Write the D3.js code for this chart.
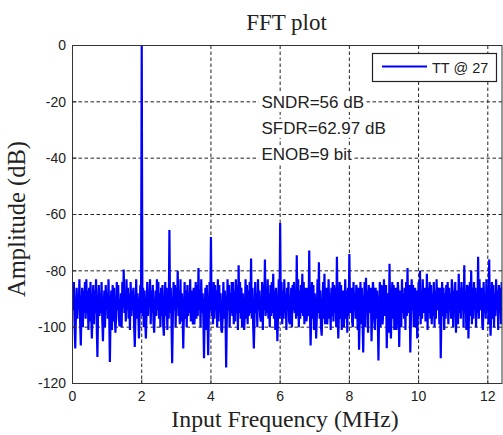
<!DOCTYPE html>
<html>
<head>
<meta charset="utf-8">
<script src="https://cdn.jsdelivr.net/npm/d3@7/dist/d3.min.js"></script>
<style>
body { margin: 0; background: #fff; }
.tick-label { font-family: "Liberation Sans", Arial, sans-serif; font-size: 14px; fill: #222; }
.serif { font-family: "Liberation Serif", "Times New Roman", serif; fill: #222; }
</style>
</head>
<body>
<div id="fft-plot"></div>
<script>
// FFT bin spacing in MHz
var binStep = 0.02;

// amplitude of each bin in dB (20 bins = 0.4 MHz per row)
var amplitude = [
  -87, -94, -84, -99, -107.6, -95, -86, -97, -89, -93, -83, -98, -106.5, -94, -86, -100, -87, -95, -84, -97,
  -83, -95, -87, -101, -86, -98, -84, -96, -104, -93, -85, -99, -87, -95, -83, -99, -110.6, -94, -85, -96,
  -88, -95, -84, -97, -105, -94, -87, -100, -85, -93, -88, -97, -83, -95, -112.4, -96, -87, -101, -85, -98,
  -86, -95, -102, -96, -84, -94, -85, -97, -99.7, -95, -88, -100, -84, -93, -79.5, -95, -87, -98, -83, -94,
  -86, -97, -88, -101, -84, -96, -87, -94, -86, -99, -107, -95, -83, -97, -88, -94, -104, -96, -85, -95,
  0, -96, -86, -100, -87, -97, -104, -95, -84, -96, -88, -93, -83, -99, -87, -95, -85, -98, -102, -94,
  -87, -96, -83, -94, -84, -97, -88, -100, -86, -96, -85, -99, -103, -94, -84, -96, -86, -101, -88, -97,
  -65.5, -95, -86, -98, -112.8, -96, -84, -94, -85, -100, -86, -93, -80, -96, -87, -99, -83, -98, -88, -94,
  -107.6, -95, -84, -97, -87, -100, -85, -96, -88, -95, -83, -98, -87, -94, -99, -86, -99, -95, -84, -97,
  -85, -96, -79, -94, -87, -100, -83, -95, -88, -96, -111, -94, -86, -101, -85, -95, -110, -96, -84, -94,
  -68, -96, -86, -99, -84, -97, -85, -94, -87, -100, -83, -98, -85, -95, -88, -101, -102, -96, -84, -97,
  -87, -95, -114.3, -96, -83, -94, -85, -100, -88, -95, -84, -96, -84, -99, -87, -98, -83, -95, -85, -101,
  -78, -95, -84, -97, -86, -100, -88, -96, -101, -95, -83, -97, -85, -99, -87, -96, -84, -95, -75.6, -97,
  -86, -99, -107.6, -96, -84, -95, -88, -100, -83, -94, -87, -96, -98, -95, -84, -101, -85, -94, -76, -96,
  -87, -95, -83, -97, -88, -100, -85, -96, -84, -95, -81, -97, -87, -101, -86, -96, -105, -95, -83, -97,
  -63, -96, -84, -99, -87, -97, -83, -95, -88, -101, -86, -94, -84, -98, -99, -95, -86, -100, -85, -94,
  -84, -95, -88, -97, -74.5, -96, -83, -100, -87, -97, -85, -95, -81, -96, -84, -99, -88, -86, -98, -95,
  -86, -96, -72.8, -94, -106.5, -95, -84, -97, -85, -101, -88, -94, -104, -96, -83, -95, -77, -97, -87, -100,
  -103, -95, -84, -97, -81, -99, -87, -86, -99, -94, -83, -97, -88, -101, -86, -96, -84, -98, -85, -95,
  -86, -100, -75, -95, -104, -94, -84, -97, -85, -101, -88, -87, -100, -95, -83, -97, -87, -102, -86, -96,
  -74, -95, -87, -86, -98, -100, -84, -94, -88, -97, -85, -87, -101, -86, -108, -96, -84, -99, -86, -97,
  -109, -95, -84, -100, -82.5, -94, -87, -102, -85, -95, -88, -86, -105, -94, -84, -87, -98, -101, -86, -97,
  -87, -96, -111.8, -95, -84, -100, -85, -86, -99, -94, -83, -96, -86, -85, -107.5, -95, -88, -102, -77.5, -96,
  -104, -94, -84, -97, -85, -101, -87, -86, -101, -95, -84, -88, -107, -94, -87, -100, -83, -95, -88, -97,
  -86, -101, -84, -96, -79, -95, -86, -85, -109, -96, -83, -94, -85, -100, -88, -86, -100, -87, -104, -95,
  -84, -96, -80, -99, -87, -97, -83, -95, -88, -86, -98, -94, -81, -101, -86, -95, -84, -97, -85, -99,
  -88, -96, -84, -100, -87, -97, -83, -94, -86, -87, -99, -86, -111, -95, -84, -96, -86, -101, -88, -97,
  -85, -95, -84, -99, -86, -94, -88, -97, -83, -86, -100, -87, -95, -84, -102, -94, -87, -99, -81, -95,
  -86, -97, -84, -94, -86, -100, -78, -95, -87, -101, -85, -86, -104, -94, -84, -96, -80, -99, -86, -97,
  -84, -94, -86, -100, -88, -95, -75, -97, -83, -94, -87, -86, -99, -101, -84, -95, -88, -97, -83, -94,
  -87, -99, -76, -95, -103, -94, -84, -97, -85, -100, -88, -96, -83, -94, -87, -101, -85, -95, -86, -99,
  -84, -94, -86, -95
];

var xTicks = [0, 2, 4, 6, 8, 10, 12];
var yTicks = [0, -20, -40, -60, -80, -100, -120];
var metrics = ["SNDR=56 dB", "SFDR=62.97 dB", "ENOB=9 bit"];
var legendLabel = "TT @ 27";

// set the dimensions and margins of the graph
var margin = {top: 45, right: 1.5, bottom: 52, left: 72},
    width = 503 - margin.left - margin.right,
    height = 435 - margin.top - margin.bottom;

var x = d3.scaleLinear().domain([0, 12.41]).range([0, width]);
var y = d3.scaleLinear().domain([-120, 0]).range([height, 0]);

var data = amplitude.map((a, i) => ({f: i * binStep, a: a}));

var root = d3.select("#fft-plot").append("svg")
    .attr("width", 503)
    .attr("height", 435);

root.append("rect").attr("width", 503).attr("height", 435).attr("fill", "#fff");

var svg = root.append("g")
    .attr("transform", "translate(" + (margin.left + 0.5) + "," + (margin.top + 0.5) + ")");

// grid
svg.selectAll(".xgrid")
    .data(xTicks.filter((d) => d > 0))
    .enter().append("line")
    .attr("x1", (d) => x(d)).attr("x2", (d) => x(d))
    .attr("y1", 0).attr("y2", height)
    .attr("stroke", "#222").attr("stroke-width", 1)
    .attr("stroke-dasharray", "3.5,2.5");

svg.selectAll(".ygrid")
    .data(yTicks.filter((d) => d > -120 && d < 0))
    .enter().append("line")
    .attr("x1", 0).attr("x2", width)
    .attr("y1", (d) => y(d)).attr("y2", (d) => y(d))
    .attr("stroke", "#222").attr("stroke-width", 1)
    .attr("stroke-dasharray", "3.5,2.5");

// metrics text with white background
var notes = svg.selectAll(".note")
    .data(metrics)
    .enter().append("g");
notes.append("text")
    .attr("class", "tick-label")
    .attr("x", 189)
    .attr("y", (d, i) => 62.5 + i * 26)
    .style("font-size", "17px")
    .text((d) => d);
notes.each(function () {
    var g = d3.select(this);
    var bb = g.select("text").node().getBBox();
    g.insert("rect", "text")
        .attr("x", bb.x - 3).attr("y", bb.y)
        .attr("width", bb.width + 5).attr("height", bb.height)
        .attr("fill", "#fff");
});

// the spectrum
root.append("clipPath").attr("id", "clip")
    .append("rect").attr("x", 0).attr("y", -5).attr("width", width).attr("height", height + 5);

svg.append("path")
    .datum(data)
    .attr("clip-path", "url(#clip)")
    .attr("fill", "none")
    .attr("stroke", "#0000ff")
    .attr("stroke-width", 2.2)
    .attr("stroke-linejoin", "bevel")
    .attr("d", d3.line().x((d) => x(d.f)).y((d) => y(d.a)));

// axes box
svg.append("rect")
    .attr("width", width).attr("height", height)
    .attr("fill", "none").attr("stroke", "#333").attr("stroke-width", 1);

// inner ticks
svg.selectAll(".xtick")
    .data(xTicks)
    .enter().append("line")
    .attr("x1", (d) => x(d)).attr("x2", (d) => x(d))
    .attr("y1", height).attr("y2", height - 4)
    .attr("stroke", "#333");
svg.selectAll(".ytick")
    .data(yTicks)
    .enter().append("line")
    .attr("x1", 0).attr("x2", 4)
    .attr("y1", (d) => y(d)).attr("y2", (d) => y(d))
    .attr("stroke", "#333");

// tick labels
svg.selectAll(".xlab")
    .data(xTicks)
    .enter().append("text")
    .attr("class", "tick-label")
    .attr("x", (d) => x(d))
    .attr("y", height + 17.5)
    .attr("text-anchor", "middle")
    .text((d) => d);

svg.selectAll(".ylab")
    .data(yTicks)
    .enter().append("text")
    .attr("class", "tick-label")
    .attr("x", -6.5)
    .attr("y", (d) => y(d))
    .attr("dy", "0.35em")
    .attr("text-anchor", "end")
    .text((d) => d);

// title and axis labels
root.append("text")
    .attr("class", "serif")
    .attr("x", 286.5).attr("y", 30)
    .attr("text-anchor", "middle")
    .style("font-size", "23px")
    .text("FFT plot");

root.append("text")
    .attr("class", "serif")
    .attr("x", 285).attr("y", 427)
    .attr("text-anchor", "middle")
    .style("font-size", "23.8px")
    .text("Input Frequency (MHz)");

root.append("text")
    .attr("class", "serif")
    .attr("transform", "translate(25,219) rotate(-90)")
    .attr("text-anchor", "middle")
    .style("font-size", "24.5px")
    .text("Amplitude (dB)");

// legend
var legend = root.append("g");
legend.append("rect")
    .attr("x", 372.5).attr("y", 53.5)
    .attr("width", 124).attr("height", 28)
    .attr("fill", "#fff").attr("stroke", "#222").attr("stroke-width", 1.2);
legend.append("line")
    .attr("x1", 382).attr("x2", 427)
    .attr("y1", 66.5).attr("y2", 66.5)
    .attr("stroke", "#0000ff").attr("stroke-width", 2);
legend.append("text")
    .attr("class", "tick-label")
    .attr("x", 432).attr("y", 72.5)
    .style("font-size", "14.5px")
    .text(legendLabel);
</script>
</body>
</html>
